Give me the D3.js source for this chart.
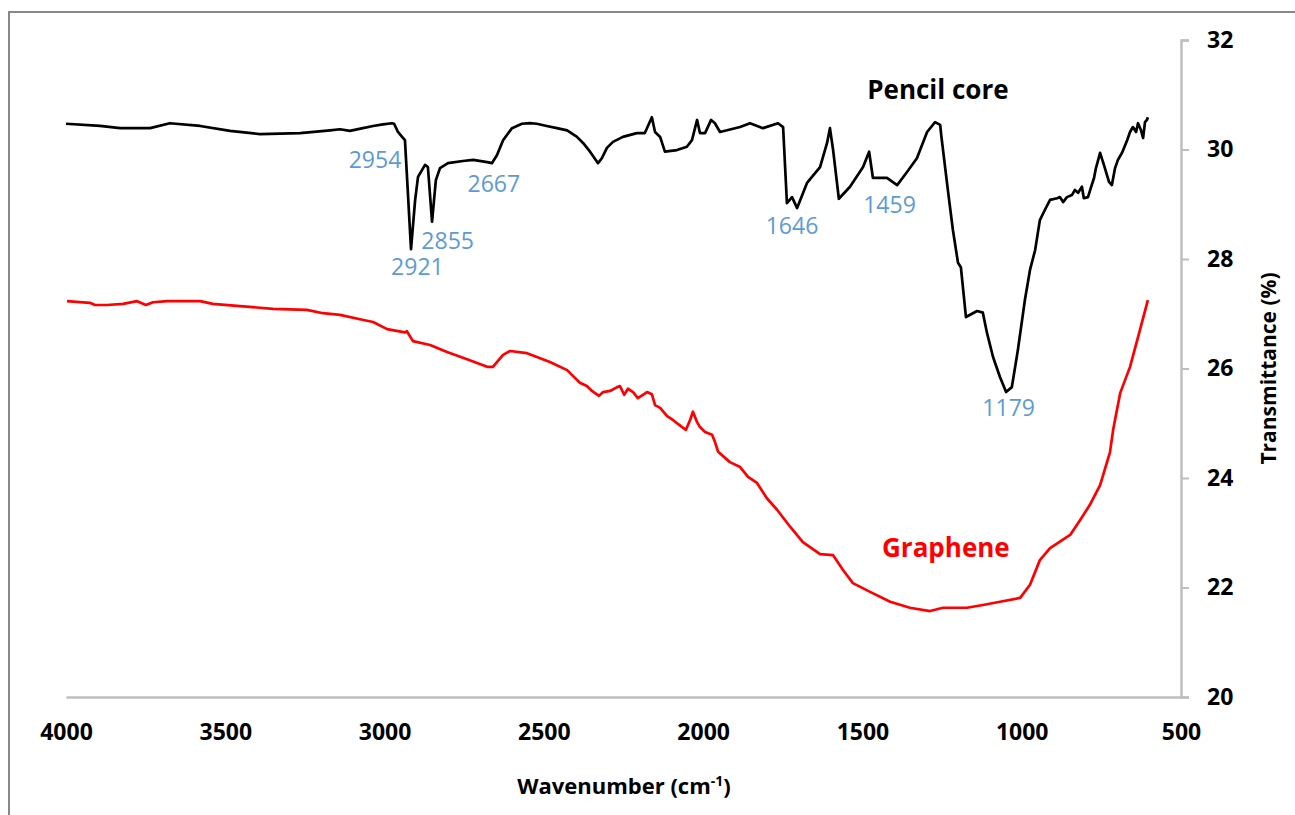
<!DOCTYPE html>
<html>
<head>
<meta charset="utf-8">
<script src="https://cdn.jsdelivr.net/npm/d3@7"></script>
<style>
  body { margin: 0; background: #fff; }
  svg { display: block; }
</style>
</head>
<body>
<svg id="chart" width="1295" height="815"></svg>
<script>
// FTIR spectra: wavenumber (cm-1) vs transmittance (%)
const xTicks = [4000, 3500, 3000, 2500, 2000, 1500, 1000, 500];
const yTicks = [20, 22, 24, 26, 28, 30, 32];

const pencilCore = [
  [4000,30.47],[3893,30.43],[3830,30.39],[3736,30.39],[3674,30.48],[3579,30.43],[3485,30.34],
  [3391,30.28],[3265,30.30],[3171,30.35],[3140,30.37],[3109,30.34],[3068,30.39],[3036,30.43],
  [3005,30.46],[2977,30.48],[2970,30.47],[2958,30.32],
  [2945,30.23],[2936,30.17],[2917,28.18],[2904,29.08],[2895,29.50],[2873,29.72],[2864,29.68],
  [2851,28.68],[2839,29.44],[2826,29.66],[2801,29.75],[2754,29.79],[2722,29.81],[2678,29.77],
  [2663,29.75],[2647,29.90],[2628,30.17],[2600,30.39],[2569,30.47],[2544,30.48],[2522,30.47],
  [2491,30.43],[2459,30.39],[2427,30.35],[2396,30.23],[2377,30.12],[2355,29.96],[2330,29.75],
  [2318,29.84],[2302,30.03],[2283,30.14],[2252,30.23],[2208,30.30],[2183,30.30],[2161,30.59],
  [2151,30.32],[2135,30.23],[2120,29.96],[2082,29.99],[2051,30.05],[2035,30.17],
  [2019,30.54],[2010,30.30],[1994,30.30],[1975,30.54],[1963,30.48],[1947,30.32],[1884,30.41],
  [1853,30.48],[1812,30.39],[1765,30.48],[1749,30.41],[1737,29.02],[1721,29.13],[1705,28.93],
  [1674,29.39],[1633,29.68],[1611,30.12],[1602,30.39],[1592,29.99],[1574,29.10],[1539,29.32],
  [1498,29.68],[1479,29.96],[1467,29.48],[1423,29.48],[1391,29.35],[1360,29.59],[1329,29.84],
  [1297,30.32],[1272,30.50],[1256,30.45],[1252,30.23],[1231,29.22],[1216,28.53],[1200,27.93],
  [1191,27.85],[1175,26.94],[1140,27.05],[1122,27.02],[1109,26.65],[1090,26.21],[1068,25.84],
  [1049,25.57],[1031,25.66],[1012,26.34],[990,27.25],[974,27.80],[958,28.16],[943,28.71],
  [927,28.90],[911,29.08],[889,29.11],[880,29.13],[870,29.04],[858,29.13],[842,29.17],
  [833,29.26],[823,29.21],[811,29.32],[805,29.11],[792,29.13],[783,29.30],[773,29.48],
  [767,29.66],[754,29.94],[742,29.72],[726,29.41],[717,29.35],[707,29.66],[698,29.81],
  [685,29.94],[669,30.17],[660,30.32],[651,30.41],[641,30.32],[635,30.48],[626,30.36],
  [619,30.21],[613,30.50],[607,30.54],[604,30.59]
];

const graphene = [
  [3997,27.23],[3925,27.20],[3909,27.16],[3871,27.16],[3821,27.18],[3777,27.23],[3749,27.16],
  [3727,27.21],[3683,27.23],[3579,27.23],[3539,27.18],[3454,27.14],[3350,27.09],[3244,27.07],
  [3193,27.01],[3140,26.98],[3077,26.90],[3036,26.85],[2992,26.72],[2936,26.66],[2930,26.68],
  [2911,26.50],[2857,26.43],[2804,26.30],[2741,26.17],[2678,26.03],[2660,26.03],[2628,26.25],
  [2606,26.32],[2553,26.28],[2522,26.21],[2481,26.12],[2427,25.97],[2387,25.74],[2365,25.68],
  [2349,25.59],[2327,25.50],[2314,25.57],[2292,25.59],[2270,25.66],[2261,25.68],[2248,25.52],
  [2236,25.63],[2220,25.57],[2205,25.46],[2189,25.52],[2176,25.57],[2161,25.53],[2151,25.33],
  [2135,25.28],[2113,25.13],[2095,25.06],[2066,24.93],[2054,24.88],[2041,25.06],[2032,25.21],
  [2019,25.02],[2010,24.93],[1994,24.84],[1972,24.79],[1963,24.66],[1953,24.48],[1916,24.29],
  [1884,24.20],[1859,24.02],[1831,23.91],
  [1800,23.63],[1768,23.42],[1727,23.11],[1687,22.83],[1633,22.61],[1592,22.59],[1561,22.32],
  [1530,22.08],[1476,21.92],[1413,21.74],[1351,21.63],[1288,21.57],[1247,21.63],[1172,21.63],
  [1122,21.68],[1068,21.74],[1005,21.81],[974,22.05],[943,22.50],[911,22.72],[880,22.84],
  [848,22.96],[817,23.23],[786,23.51],[754,23.87],[723,24.47],[713,24.88],[691,25.55],
  [660,26.03],[629,26.70],[604,27.25]
];

// Peak annotations: text, wavenumber where the label is centred, transmittance at its baseline
const peakText = ["2954", "2921", "2855", "2667", "1646", "1459", "1179"];
const peakAt   = [3030, 2897, 2802, 2657, 1721, 1415, 1041];
const peakV    = [29.66, 27.71, 28.18, 29.22, 28.46, 28.84, 25.13];

const seriesNames = ["Pencil core", "Graphene"];
const seriesColors = ["#000000", "#ff0000"];
const seriesLabelAt = [1263, 1238];
const seriesLabelV = [30.92, 22.56];

const svg = d3.select("#chart");
const W = 1295, H = 815;
const plot = { left: 66, right: 1181, top: 40, bottom: 697 };

// outer frame
svg.append("rect")
  .attr("x", 9).attr("y", 12)
  .attr("width", W + 20).attr("height", H + 20)
  .attr("fill", "#fff").attr("stroke", "#888").attr("stroke-width", 2);

const x = d3.scaleLinear().domain([4000, 500]).range([plot.left, plot.right]);
const y = d3.scaleLinear().domain([20, 32]).range([plot.bottom, plot.top]);

const tickFont = "'Open Sans', sans-serif";
const axisColor = "#bfbfbf";

// x axis (no tick marks)
const xAxis = svg.append("g")
  .attr("transform", `translate(0,${plot.bottom})`)
  .call(d3.axisBottom(x).tickValues(xTicks).tickSize(0).tickPadding(27).tickFormat(d3.format("d")));
xAxis.select(".domain").attr("stroke", axisColor).attr("stroke-width", 2.5);
xAxis.selectAll("text")
  .attr("font-family", tickFont).attr("font-weight", "bold")
  .attr("font-size", 23).attr("fill", "#000");

// y axis on the right
const yAxis = svg.append("g")
  .attr("transform", `translate(${plot.right},0)`)
  .call(d3.axisRight(y).tickValues(yTicks).tickSize(8).tickPadding(18).tickFormat(d3.format("d")));
yAxis.select(".domain").attr("stroke", axisColor).attr("stroke-width", 2.5);
yAxis.selectAll(".tick line").attr("stroke", axisColor).attr("stroke-width", 2);
yAxis.selectAll("text")
  .attr("font-family", tickFont).attr("font-weight", "bold")
  .attr("font-size", 23).attr("fill", "#000");

// spectra
const line = d3.line().x(d => x(d[0])).y(d => y(d[1]));
[pencilCore, graphene].forEach((data, i) => {
  svg.append("path")
    .datum(data)
    .attr("d", line)
    .attr("fill", "none")
    .attr("stroke", seriesColors[i])
    .attr("stroke-width", 2.7)
    .attr("stroke-linejoin", "round");
});

// series names
seriesNames.forEach((name, i) => {
  svg.append("text")
    .attr("x", x(seriesLabelAt[i]))
    .attr("y", y(seriesLabelV[i]))
    .attr("text-anchor", "middle")
    .attr("font-family", tickFont).attr("font-weight", "bold")
    .attr("font-size", 26)
    .attr("fill", seriesColors[i])
    .text(name);
});

// peak labels
peakText.forEach((t, i) => {
  svg.append("text")
    .attr("x", x(peakAt[i]))
    .attr("y", y(peakV[i]))
    .attr("text-anchor", "middle")
    .attr("font-family", tickFont)
    .attr("font-size", 23)
    .attr("fill", "#5b9bd5")
    .text(t);
});

// axis titles
const xTitle = svg.append("text")
  .attr("x", (plot.left + plot.right) / 2 + 0.5)
  .attr("y", 794)
  .attr("text-anchor", "middle")
  .attr("font-family", tickFont).attr("font-weight", "bold")
  .attr("font-size", 22).attr("fill", "#000");
xTitle.append("tspan").text("Wavenumber (cm");
xTitle.append("tspan").attr("font-size", 14).attr("dy", -8).text("-1");
xTitle.append("tspan").attr("dy", 8).text(")");

svg.append("text")
  .attr("transform", `translate(1276,${(plot.top + plot.bottom) / 2}) rotate(-90)`)
  .attr("text-anchor", "middle")
  .attr("font-family", tickFont).attr("font-weight", "bold")
  .attr("font-size", 21).attr("fill", "#000")
  .text("Transmittance (%)");
</script>
</body>
</html>
